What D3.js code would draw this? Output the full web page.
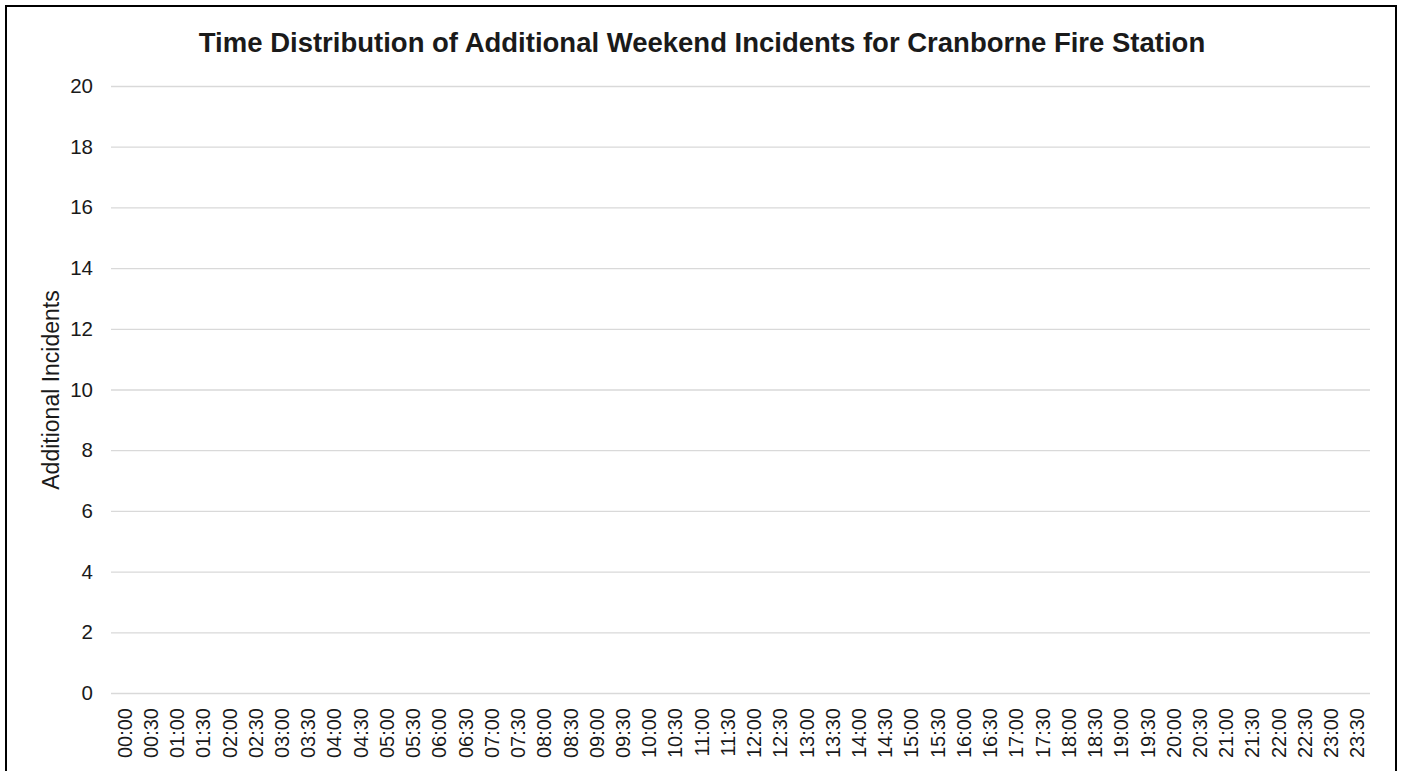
<!DOCTYPE html>
<html>
<head>
<meta charset="utf-8">
<script src="https://cdn.jsdelivr.net/npm/d3@7"></script>
<style>
  html, body { margin: 0; padding: 0; background: #fff; }
  svg { display: block; }
  text { font-family: Arial, "Liberation Sans", sans-serif; fill: #1a1a1a; }
</style>
</head>
<body>
<svg id="chart" width="1403" height="771"></svg>
<script>
// Half-hour time slots across the day
const timeSlots = [
  "00:00","00:30","01:00","01:30","02:00","02:30","03:00","03:30",
  "04:00","04:30","05:00","05:30","06:00","06:30","07:00","07:30",
  "08:00","08:30","09:00","09:30","10:00","10:30","11:00","11:30",
  "12:00","12:30","13:00","13:30","14:00","14:30","15:00","15:30",
  "16:00","16:30","17:00","17:30","18:00","18:30","19:00","19:30",
  "20:00","20:30","21:00","21:30","22:00","22:30","23:00","23:30"
];
// Additional weekend incidents per slot (none recorded)
const additionalIncidents = [
  0,0,0,0,0,0,0,0, 0,0,0,0,0,0,0,0,
  0,0,0,0,0,0,0,0, 0,0,0,0,0,0,0,0,
  0,0,0,0,0,0,0,0, 0,0,0,0,0,0,0,0
];
const yTicks = [0, 2, 4, 6, 8, 10, 12, 14, 16, 18, 20];
const titleText = "Time Distribution of Additional Weekend Incidents for Cranborne Fire Station";
const yAxisTitle = "Additional Incidents";

const svg = d3.select("#chart");
const W = 1403, H = 771;
const plot = { left: 111, right: 1370, top: 86, bottom: 693 };
const FONT = "Arial, 'Liberation Sans', sans-serif";

// Outer frame
svg.append("rect")
  .attr("x", 6).attr("y", 6)
  .attr("width", 1390).attr("height", H + 10)
  .attr("fill", "#fff").attr("stroke", "#000").attr("stroke-width", 2);

const x = d3.scaleBand()
  .domain(timeSlots)
  .range([plot.left, plot.right])
  .paddingInner(0.2).paddingOuter(0.1);

const y = d3.scaleLinear()
  .domain([0, 20])
  .range([plot.bottom, plot.top]);

// Horizontal gridlines with value labels
const yAxis = d3.axisLeft(y)
  .tickValues(yTicks)
  .tickSize(-(plot.right - plot.left))
  .tickPadding(18);
const gy = svg.append("g")
  .attr("transform", `translate(${plot.left},0)`)
  .call(yAxis);
gy.select(".domain").remove();
gy.selectAll(".tick line").attr("stroke", "#d9d9d9").attr("stroke-width", 1.3);
gy.selectAll(".tick text")
  .attr("font-size", 20.5)
  .attr("fill", "#1a1a1a")
  .attr("font-family", FONT);

// Bars
svg.append("g")
  .selectAll("rect")
  .data(timeSlots.map((t, i) => ({ t, v: additionalIncidents[i] })))
  .join("rect")
  .attr("x", d => x(d.t))
  .attr("width", x.bandwidth())
  .attr("y", d => y(d.v))
  .attr("height", d => y(0) - y(d.v))
  .attr("fill", "#4472c4");

// Category axis with vertical time labels
const xAxis = d3.axisBottom(x).tickSize(0).tickPadding(0);
const gx = svg.append("g")
  .attr("transform", `translate(0,${plot.bottom})`)
  .call(xAxis);
gx.select(".domain").remove();
gx.selectAll(".tick text")
  .attr("font-size", 20)
  .attr("fill", "#1a1a1a")
  .attr("font-family", FONT)
  .attr("text-anchor", "end")
  .attr("dy", null)
  .attr("y", 0)
  .attr("transform", "translate(7.5,15) rotate(-90)");

// Title
svg.append("text")
  .attr("x", 702)
  .attr("y", 52)
  .attr("text-anchor", "middle")
  .attr("font-size", 27.5)
  .attr("font-weight", "bold")
  .attr("fill", "#000")
  .text(titleText);

// Y axis title
svg.append("text")
  .attr("transform", `translate(59,390) rotate(-90)`)
  .attr("text-anchor", "middle")
  .attr("font-size", 23)
  .attr("fill", "#1a1a1a")
  .text(yAxisTitle);
</script>
</body>
</html>
